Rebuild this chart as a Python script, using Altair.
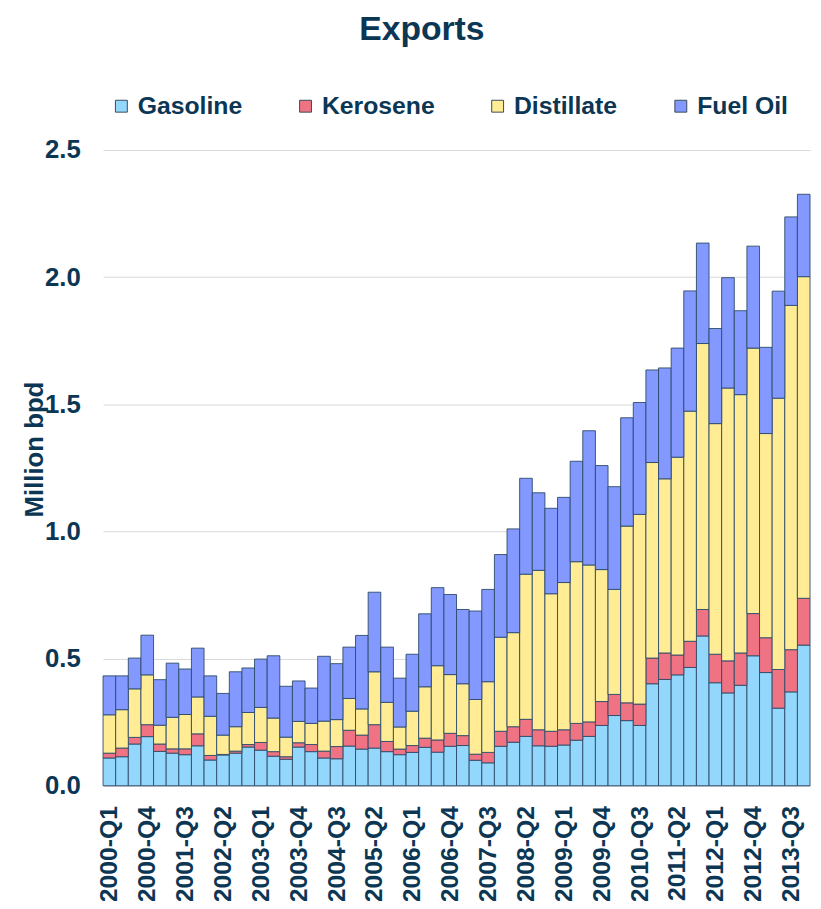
import altair as alt
import pandas as pd

quarters = [f"{y}-Q{q}" for y in range(2000, 2014) for q in range(1, 5)]
products = ["Gasoline", "Kerosene", "Distillate", "Fuel Oil"]
colors = ["#93D8FC", "#F07384", "#FFEC94", "#8399FF"]

gasoline = [0.109, 0.114, 0.164, 0.193, 0.135, 0.128, 0.122, 0.157, 0.101, 0.121,
            0.128, 0.152, 0.140, 0.116, 0.104, 0.152, 0.134, 0.109, 0.106, 0.156,
            0.144, 0.148, 0.134, 0.122, 0.131, 0.151, 0.132, 0.155, 0.158, 0.100,
            0.090, 0.155, 0.171, 0.194, 0.157, 0.155, 0.160, 0.179, 0.194, 0.237,
            0.276, 0.256, 0.237, 0.401, 0.418, 0.436, 0.465, 0.589, 0.405, 0.365,
            0.395, 0.511, 0.445, 0.305, 0.369, 0.553]
kerosene = [0.019, 0.034, 0.026, 0.047, 0.029, 0.017, 0.023, 0.047, 0.018, 0.002,
            0.008, 0.010, 0.030, 0.018, 0.010, 0.017, 0.028, 0.027, 0.048, 0.062,
            0.055, 0.092, 0.040, 0.022, 0.027, 0.036, 0.048, 0.051, 0.039, 0.024,
            0.041, 0.059, 0.061, 0.067, 0.063, 0.059, 0.060, 0.066, 0.057, 0.094,
            0.083, 0.070, 0.084, 0.101, 0.104, 0.078, 0.103, 0.104, 0.112, 0.126,
            0.127, 0.166, 0.137, 0.152, 0.166, 0.184]
distillate = [0.151, 0.151, 0.191, 0.196, 0.074, 0.124, 0.135, 0.145, 0.154, 0.076,
              0.096, 0.126, 0.138, 0.132, 0.077, 0.084, 0.083, 0.118, 0.106, 0.125,
              0.103, 0.208, 0.154, 0.087, 0.135, 0.202, 0.292, 0.231, 0.204, 0.215,
              0.278, 0.370, 0.370, 0.571, 0.627, 0.541, 0.579, 0.636, 0.617, 0.519,
              0.413, 0.695, 0.746, 0.769, 0.685, 0.778, 0.905, 1.046, 0.907, 1.073,
              1.016, 1.044, 0.803, 1.067, 1.354, 1.265]
fuel_oil = [0.153, 0.133, 0.121, 0.156, 0.179, 0.213, 0.179, 0.192, 0.159, 0.164,
            0.216, 0.175, 0.190, 0.245, 0.200, 0.159, 0.139, 0.255, 0.220, 0.202,
            0.289, 0.313, 0.217, 0.192, 0.224, 0.287, 0.307, 0.315, 0.292, 0.348,
            0.363, 0.325, 0.408, 0.377, 0.305, 0.336, 0.335, 0.395, 0.528, 0.409,
            0.404, 0.426, 0.440, 0.364, 0.436, 0.429, 0.473, 0.395, 0.374, 0.434,
            0.330, 0.401, 0.339, 0.421, 0.348, 0.324]

y_ticks = [0.0, 0.5, 1.0, 1.5, 2.0, 2.5]
x_tick_labels = quarters[::3]

series = [gasoline, kerosene, distillate, fuel_oil]
rows = []
for i, (name, vals) in enumerate(zip(products, series)):
    for q, v in zip(quarters, vals):
        rows.append({"quarter": q, "product": name, "value": v, "order": i})
df = pd.DataFrame(rows)

NAVY = "#0b3654"
FONT = "Liberation Sans"

chart = alt.Chart(df).mark_bar(stroke="#2d4a68", strokeWidth=1, strokeOpacity=0.9).encode(
    x=alt.X("quarter:N", sort=quarters, title=None,
            scale=alt.Scale(paddingInner=0, paddingOuter=0),
            axis=alt.Axis(values=x_tick_labels, labelAngle=270, labelFontSize=25,
                          labelFont=FONT, labelFontWeight="bold", labelColor=NAVY,
                          labelPadding=20, ticks=False, tickSize=0,
                          domain=True, domainColor="#bfbfbf", grid=False)),
    y=alt.Y("value:Q", stack="zero", title="Million bpd",
            scale=alt.Scale(domain=[0, 2.5], nice=False),
            axis=alt.Axis(values=y_ticks, format=".1f", labelFontSize=26,
                          labelFont=FONT, labelFontWeight="bold", labelColor=NAVY,
                          labelPadding=23, ticks=False, tickSize=0, domain=False,
                          grid=True, gridColor="#d9d9d9", gridWidth=1,
                          titleFontSize=26, titleFont=FONT, titleFontWeight="bold",
                          titleColor=NAVY, titleX=-61, titleY=302,
                          titleBaseline="alphabetic")),
    color=alt.Color("product:N", scale=alt.Scale(domain=products, range=colors),
                    legend=alt.Legend(title=None, orient="none", direction="horizontal",
                                      legendX=6, legendY=-57, padding=0,
                                      symbolType="square", symbolSize=144,
                                      symbolStrokeColor="#3a4a5a", symbolStrokeWidth=1,
                                      symbolOpacity=1,
                                      labelFontSize=25, labelFont=FONT,
                                      labelFontWeight="bold", labelColor=NAVY,
                                      labelOffset=4, columnPadding=51)),
    order=alt.Order("order:Q"),
).properties(
    width=714,
    height=642,
    title=alt.TitleParams("Exports", fontSize=34, font=FONT, fontWeight="bold",
                          color=NAVY, anchor="middle", dx=-35, offset=20,
                          baseline="alphabetic"),
    autosize=alt.AutoSizeParams(type="none"),
    padding={"left": 96, "top": 139, "right": 3, "bottom": 112},
).configure_view(stroke=None)

chart.save("out.html", embed_options={"renderer": "svg", "actions": False})
